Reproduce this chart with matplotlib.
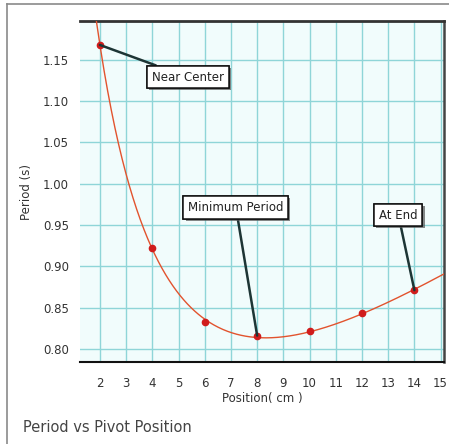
import numpy as np
import matplotlib
matplotlib.use("Agg")
import matplotlib.pyplot as plt
from matplotlib import patheffects as pe
from matplotlib.lines import Line2D

plt.rcParams['font.family'] = ['DejaVu Sans']

# Data
positions = [2, 4, 6, 8, 10, 12, 14]
periods = [1.168, 0.922, 0.832, 0.816, 0.821, 0.843, 0.871]
x_ticks = list(range(2, 16))
y_ticks = [0.80, 0.85, 0.90, 0.95, 1.00, 1.05, 1.10, 1.15]
annotations = [
    ("Near Center", 2, 1.168, 5.36, 1.129),
    ("Minimum Period", 8, 0.816, 7.19, 0.971),
    ("At End", 14, 0.871, 13.39, 0.962),
]

W, H = 449, 444
fig = plt.figure(figsize=(W / 100, H / 100), dpi=100)
fig.patch.set_facecolor('white')

# outer frame
fig.add_artist(Line2D([7 / W, 7 / W], [0, 1 - 4 / H], transform=fig.transFigure, color='#8a8a8a', lw=1.2))
fig.add_artist(Line2D([7 / W, 1], [1 - 4 / H, 1 - 4 / H], transform=fig.transFigure, color='#8a8a8a', lw=1.2))

ax = fig.add_axes([80 / W, 1 - 362 / H, 364 / W, (362 - 21) / H])
ax.set_facecolor('#f1fcfc')

# smooth fit curve (least squares on the points): T^2 = a/x + b + c x + d/x^2
xp = np.array(positions, float)
yp = np.array(periods, float)
coef, *_ = np.linalg.lstsq(np.column_stack([1 / xp, np.ones_like(xp), xp, 1 / xp ** 2]), yp ** 2, rcond=None)
xs = np.linspace(1.5, 15.3, 400)
ys = np.sqrt(np.clip(np.column_stack([1 / xs, np.ones_like(xs), xs, 1 / xs ** 2]) @ coef, 0, None))

ax.plot(xs, ys, color='#e2532e', lw=1.0, zorder=3)
ax.plot(positions, periods, 'o', color='#d01c1c', ms=4.5, zorder=4)

ax.set_xlim(1.24, 15.13)
ax.set_ylim(0.784, 1.197)
ax.set_xticks(x_ticks)
ax.set_yticks(y_ticks)
ax.set_yticklabels([f"{v:.2f}" for v in y_ticks])
ax.grid(True, color='#8fd5d8', lw=1.0)
ax.set_axisbelow(True)
ax.tick_params(length=0, labelsize=8.5, colors='#333333')
ax.tick_params(axis='y', pad=8)
ax.tick_params(axis='x', pad=11)

ax.spines['left'].set_visible(False)
ax.spines['top'].set_color('#333333')
ax.spines['top'].set_linewidth(2)
ax.spines['right'].set_color('#444444')
ax.spines['right'].set_linewidth(1.8)
ax.spines['bottom'].set_color('#111111')
ax.spines['bottom'].set_linewidth(1.5)

ax.set_xlabel("Position( cm )", fontsize=8.5, color='#333333')
ax.set_ylabel("Period (s)", fontsize=8.5, color='#333333')
ax.xaxis.set_label_coords((262 - 80) / 364, -(392 - 362) / 341)
ax.yaxis.set_label_coords(-(80 - 33) / 364, 0.5)

for text, px, py, tx, ty in annotations:
    ann = ax.annotate(text, xy=(px, py), xytext=(tx, ty), fontsize=8.5, color='#222222',
                      ha='center', va='center', zorder=6,
                      bbox=dict(boxstyle='square,pad=0.4', fc='white', ec='#111111', lw=1.1),
                      arrowprops=dict(arrowstyle='-', color='#1d3535', lw=1.8, shrinkA=0, shrinkB=0))
    ann.get_bbox_patch().set_path_effects([pe.withSimplePatchShadow(offset=(1.5, -1.5), shadow_rgbFace='#555555', alpha=0.7), pe.Normal()])

fig.text(23 / W, 1 - 427.7 / H, "Period vs Pivot Position", fontsize=10.5, color='#444444', ha='left', va='center')

fig.savefig("out.png", dpi=100)
